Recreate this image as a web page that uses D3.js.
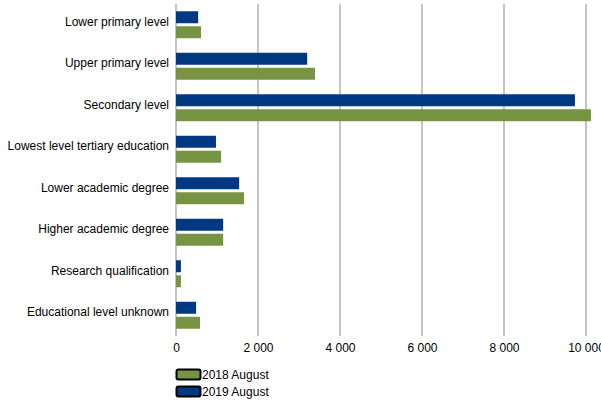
<!DOCTYPE html>
<html>
<head>
<meta charset="utf-8">
<script src="https://cdn.jsdelivr.net/npm/d3@7"></script>
<style>
  body { margin: 0; background: #fff; }
  text { font-family: "Liberation Sans", Arial, sans-serif; font-size: 12px; fill: #000; }
</style>
</head>
<body>
<div id="chart"></div>
<script>
// Data
var categories = [
    "Lower primary level",
    "Upper primary level",
    "Secondary level",
    "Lowest level tertiary education",
    "Lower academic degree",
    "Higher academic degree",
    "Research qualification",
    "Educational level unknown"
];
var series = ["2019 August", "2018 August"];
var values2019 = [540, 3200, 9730, 975, 1540, 1150, 120, 490];
var values2018 = [610, 3390, 10120, 1100, 1660, 1150, 120, 585];
var tickValues = [0, 2000, 4000, 6000, 8000, 10000];

var colors = { "2018 August": "#779443", "2019 August": "#003882" };

var svgWidth = 601;
var svgHeight = 400;

var svg = d3.select("#chart")
    .append("svg")
    .attr("width", svgWidth)
    .attr("height", svgHeight);

var xScale = d3.scaleLinear()
    .domain([0, 10000])
    .range([176, 586]);

var y0 = d3.scaleBand()
    .domain(categories)
    .range([4, 336])
    .paddingInner(0.35)
    .paddingOuter(0.175);

var y1 = d3.scaleBand()
    .domain(series)
    .range([0, y0.bandwidth()])
    .paddingInner(0.2);

var locale = d3.formatLocale({ decimal: ".", thousands: " ", grouping: [3], currency: ["", ""] });
var fmt = locale.format(",");

// gridlines
svg.append("g")
    .selectAll("line")
    .data(tickValues)
    .enter()
    .append("line")
    .attr("x1", d => xScale(d))
    .attr("x2", d => xScale(d))
    .attr("y1", 4)
    .attr("y2", 336)
    .attr("stroke", "#c4c4c4")
    .attr("stroke-width", 2);

// bars
var rows = categories.map((c, i) => ({ cat: c, "2019 August": values2019[i], "2018 August": values2018[i] }));

var groups = svg.append("g")
    .selectAll("g")
    .data(rows)
    .enter()
    .append("g")
    .attr("transform", d => `translate(0,${y0(d.cat)})`);

groups.selectAll("rect")
    .data(d => series.map(s => ({ key: s, value: d[s] })))
    .enter()
    .append("rect")
    .attr("x", xScale(0))
    .attr("y", d => y1(d.key))
    .attr("width", d => xScale(d.value) - xScale(0))
    .attr("height", y1.bandwidth())
    .attr("fill", d => colors[d.key]);

// axes
var bottomAxis = d3.axisBottom(xScale)
    .tickValues(tickValues)
    .tickFormat(fmt)
    .tickSize(0)
    .tickPadding(7);

var xAxis = svg.append("g")
    .attr("transform", "translate(0,336)")
    .call(bottomAxis);
xAxis.select(".domain").remove();
xAxis.selectAll("text").style("font-size", "12px").attr("fill", "#000");

var leftAxis = d3.axisLeft(y0)
    .tickSize(0)
    .tickPadding(7);

var yAxis = svg.append("g")
    .attr("transform", `translate(${xScale(0)},-3)`)
    .call(leftAxis);
yAxis.select(".domain").remove();
yAxis.selectAll("text").style("font-size", "12px").attr("fill", "#000");

// legend
var legendItems = ["2018 August", "2019 August"];
var legend = svg.append("g")
    .attr("transform", "translate(176,369)");

var li = legend.selectAll("g")
    .data(legendItems)
    .enter()
    .append("g")
    .attr("transform", (d, i) => `translate(0,${i * 17})`);

li.append("rect")
    .attr("x", 0.5)
    .attr("y", 0.5)
    .attr("width", 24)
    .attr("height", 10)
    .attr("rx", 2)
    .attr("fill", d => colors[d])
    .attr("stroke", "#000")
    .attr("stroke-width", 2);

li.append("text")
    .attr("x", 26)
    .attr("y", 10)
    .text(d => d);
</script>
</body>
</html>
